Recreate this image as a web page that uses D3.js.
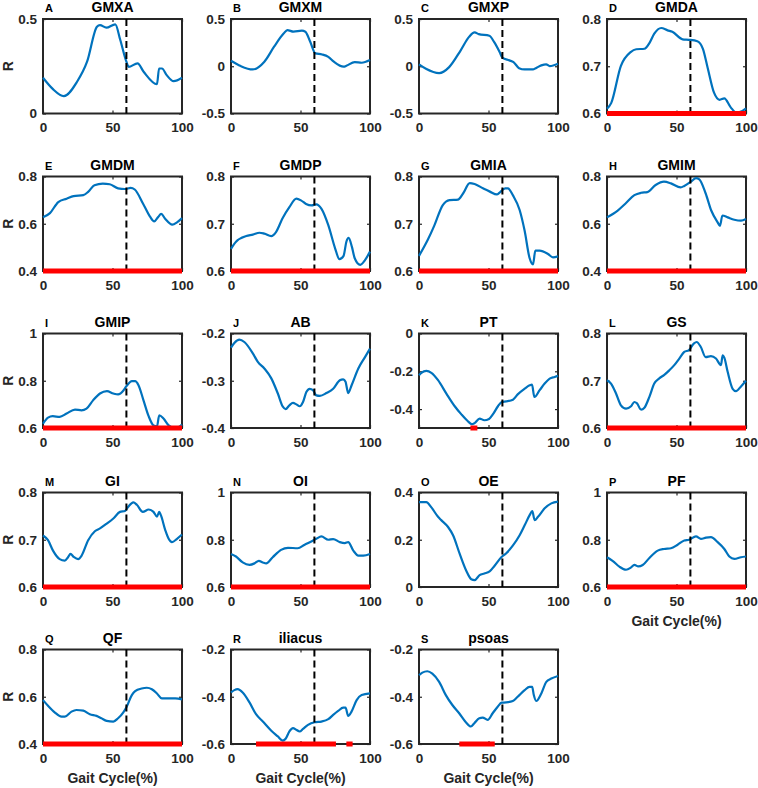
<!DOCTYPE html>
<html>
<head>
<meta charset="utf-8">
<script src="https://cdn.jsdelivr.net/npm/d3@7"></script>
<style>
  body { margin: 0; background: #fff; }
  svg text { font-family: "Liberation Sans", Arial, sans-serif; font-weight: bold; }
</style>
</head>
<body>
<svg id="chart" width="758" height="788"></svg>
<script>
// panel names, letters, axis limits, ticks
const muscles = ["GMXA","GMXM","GMXP","GMDA","GMDM","GMDP","GMIA","GMIM","GMIP","AB","PT","GS","GI","OI","OE","PF","QF","iliacus","psoas"];
const letters = ["A","B","C","D","E","F","G","H","I","J","K","L","M","N","O","P","Q","R","S"];
const yLimits = [[0,0.5],[-0.5,0.5],[-0.5,0.5],[0.6,0.8],[0.4,0.8],[0.6,0.8],[0.6,0.8],[0.4,0.8],[0.6,1],[-0.4,-0.2],[-0.5,0],[0.6,0.8],[0.6,0.8],[0.6,1],[0,0.4],[0.6,1],[0.4,0.8],[-0.6,-0.2],[-0.6,-0.2]];
const yTickVals = [[0,0.5],[-0.5,0,0.5],[-0.5,0,0.5],[0.6,0.7,0.8],[0.4,0.6,0.8],[0.6,0.7,0.8],[0.6,0.7,0.8],[0.4,0.6,0.8],[0.6,0.8,1],[-0.4,-0.3,-0.2],[-0.4,-0.2,0],[0.6,0.7,0.8],[0.6,0.7,0.8],[0.6,0.8,1],[0,0.2,0.4],[0.6,0.8,1],[0.4,0.6,0.8],[-0.6,-0.4,-0.2],[-0.6,-0.4,-0.2]];
const xTickVals = [0, 50, 100];
const toeOff = 60;
// significant stretches (% gait cycle), drawn in red on the bottom axis
const sigRanges = [[],[],[],[[0,100]],[[0,100]],[[0,100]],[[0,100]],[[0,100]],[[0,100]],[],[[37,42]],[[0,100]],[[0,100]],[[0,100]],[],[[0,100]],[[0,100]],[[18,75.5],[83,87.5]],[[29,54.5]]];

// correlation curves: [gait %, R]
const rGMXA = [[0,0.189],[7,0.13],[15,0.092],[24.5,0.168],[31.7,0.274],[38.8,0.459],[41,0.468],[45.6,0.454],[52,0.472],[55.6,0.389],[60,0.274],[61.6,0.247],[68,0.265],[72.4,0.221],[82,0.155],[83.5,0.238],[85.6,0.238],[89,0.203],[94,0.171],[100,0.189]];
const rGMXM = [[0,0.058],[7,0.002],[15.5,-0.034],[24,0.048],[31,0.207],[38,0.348],[40.5,0.383],[45,0.366],[51,0.376],[53.5,0.366],[57,0.26],[60.7,0.136],[65.5,0.125],[70,0.1],[74,0.048],[81,-0.005],[83,0.005],[89,0.044],[94,0.037],[100,0.065]];
const rGMXP = [[0,0.02],[5,-0.027],[14.5,-0.073],[21.7,-0.009],[30,0.169],[36,0.311],[40,0.358],[43,0.34],[50.6,0.322],[54,0.258],[58,0.151],[60,0.09],[65,0.062],[68,0.044],[72,-0.02],[76,-0.034],[82,-0.034],[84,-0.02],[88,0.009],[91.5,0.02],[94,0.002],[100,0.027]];
const rGMDA = [[0,0.61],[3,0.622],[10,0.701],[17,0.73],[21,0.736],[27,0.737],[30.5,0.749],[34,0.769],[39,0.781],[43.6,0.776],[47,0.773],[54.4,0.757],[59,0.756],[65,0.753],[69,0.737],[72.4,0.697],[77,0.644],[81,0.629],[84.4,0.632],[89,0.613],[93,0.602],[96.4,0.604],[100,0.611]];
const rGMDM = [[0,0.627],[5,0.645],[11,0.692],[17,0.706],[22,0.717],[29,0.721],[32.5,0.735],[37,0.763],[43,0.77],[48,0.767],[54,0.75],[59,0.747],[63,0.752],[66,0.745],[72,0.685],[77,0.63],[80,0.61],[83,0.63],[85,0.642],[88,0.62],[93,0.596],[96.4,0.606],[100,0.624]];
const rGMDP = [[0,0.647],[3.6,0.662],[11,0.674],[15.7,0.677],[20.5,0.681],[24,0.679],[29,0.674],[32.5,0.683],[37,0.711],[42,0.735],[47,0.753],[50.6,0.749],[54,0.742],[58,0.739],[61.4,0.741],[65,0.732],[70,0.697],[75,0.647],[78,0.625],[81,0.632],[83,0.662],[84.6,0.67],[87,0.651],[89,0.627],[93,0.613],[96.4,0.623],[100,0.641]];
const rGMIA = [[0,0.632],[6.5,0.667],[11,0.696],[17,0.739],[22,0.75],[28,0.751],[31.7,0.764],[36.5,0.786],[40,0.784],[46,0.775],[51,0.768],[56,0.762],[58,0.766],[62,0.775],[64,0.775],[67.6,0.76],[72.4,0.729],[76,0.685],[79.6,0.627],[82,0.614],[83.7,0.643],[86.8,0.643],[92.8,0.636],[96.4,0.629],[100,0.631]];
const rGMIM = [[0,0.627],[7.7,0.656],[13.7,0.688],[19.7,0.721],[24.5,0.731],[29,0.734],[35,0.764],[41,0.778],[46,0.771],[53,0.754],[55.6,0.76],[60.4,0.778],[64,0.793],[66.4,0.788],[71,0.728],[75,0.656],[79.6,0.606],[81.3,0.591],[83,0.635],[86.8,0.627],[91.6,0.617],[96.4,0.613],[100,0.62]];
const rGMIP = [[0,0.618],[3.6,0.644],[7,0.65],[12,0.647],[17,0.661],[23,0.678],[27.7,0.675],[31.3,0.682],[36,0.717],[41,0.746],[46,0.756],[50.6,0.746],[54,0.742],[58,0.76],[60,0.777],[64,0.798],[66.3,0.798],[68.7,0.781],[72.3,0.717],[76,0.65],[79.5,0.611],[82,0.607],[83.6,0.654],[86.7,0.64],[90.4,0.611],[94,0.601],[97.6,0.604],[100,0.615]];
const rAB = [[0,-0.23],[2.4,-0.22],[6,-0.213],[9.6,-0.218],[15.7,-0.242],[19.3,-0.26],[24,-0.274],[29,-0.295],[33.7,-0.327],[37.3,-0.355],[39.3,-0.36],[42,-0.352],[44.6,-0.347],[47,-0.35],[49.4,-0.354],[51.8,-0.345],[54.2,-0.324],[56.6,-0.317],[59,-0.32],[61.4,-0.331],[63.9,-0.332],[68.7,-0.326],[73.5,-0.317],[78.3,-0.299],[80.7,-0.297],[82.4,-0.302],[84.3,-0.326],[86.7,-0.31],[91.6,-0.274],[96.4,-0.25],[100,-0.232]];
const rPT = [[0,-0.221],[1.7,-0.208],[5.3,-0.198],[8.9,-0.208],[13.7,-0.247],[19.7,-0.318],[25.7,-0.385],[30.5,-0.428],[35,-0.463],[38,-0.48],[40,-0.474],[43.6,-0.45],[47,-0.459],[50.4,-0.452],[53.5,-0.424],[56.8,-0.385],[59.7,-0.362],[62.8,-0.359],[67.6,-0.35],[71,-0.322],[76,-0.292],[79.6,-0.274],[81.3,-0.27],[83,-0.336],[86.8,-0.3],[90.4,-0.265],[94,-0.239],[97.6,-0.23],[100,-0.224]];
const rGS = [[0,0.701],[2.9,0.694],[6.5,0.673],[10,0.648],[13.7,0.641],[17.3,0.646],[19.7,0.655],[21.6,0.652],[24.5,0.639],[26.9,0.643],[30.5,0.666],[34,0.694],[37.6,0.705],[41,0.712],[44.8,0.722],[48.4,0.733],[52,0.747],[55.6,0.761],[59,0.765],[62.6,0.779],[64.5,0.782],[67.4,0.772],[71,0.75],[74.8,0.752],[78.4,0.747],[82,0.733],[83.2,0.754],[84.4,0.749],[86.8,0.719],[90.4,0.683],[92.8,0.678],[96.4,0.688],[100,0.7]];
const rGI = [[0,0.709],[3.6,0.699],[7.2,0.677],[12,0.659],[15.7,0.656],[18,0.663],[19.8,0.67],[22,0.664],[25.3,0.659],[27.7,0.666],[32.5,0.699],[37.3,0.718],[41,0.724],[45.8,0.734],[50.6,0.745],[55.4,0.759],[59,0.761],[61.4,0.77],[65,0.779],[67.5,0.774],[71.8,0.759],[76,0.764],[79.5,0.759],[82,0.749],[83.6,0.759],[84.8,0.752],[88,0.72],[90.4,0.702],[92.8,0.695],[96.4,0.702],[100,0.711]];
const rOI = [[0,0.74],[3.6,0.729],[8.4,0.704],[13.3,0.694],[16.9,0.7],[20,0.711],[22.9,0.704],[25.3,0.7],[30,0.726],[36,0.757],[41,0.766],[48,0.764],[53,0.779],[57.8,0.793],[61.4,0.804],[65,0.814],[70,0.8],[73.5,0.803],[78.3,0.79],[81.9,0.786],[84.3,0.79],[88,0.754],[91.6,0.733],[95.2,0.733],[100,0.74]];
const rOE = [[0,0.359],[5.3,0.359],[8.9,0.337],[13.7,0.297],[16,0.283],[20.9,0.254],[24.5,0.219],[29.3,0.14],[34,0.069],[37.6,0.033],[40,0.029],[43.6,0.05],[47,0.057],[50.8,0.066],[54.4,0.09],[59.2,0.126],[62.8,0.143],[67.6,0.176],[72.4,0.219],[76,0.261],[79.6,0.304],[81.5,0.321],[83.2,0.283],[85.6,0.297],[90.4,0.333],[95.2,0.354],[100,0.361]];
const rPF = [[0,0.726],[4,0.711],[8.9,0.686],[13.7,0.673],[17.3,0.683],[19.7,0.694],[22.5,0.687],[25.7,0.693],[30.5,0.723],[36.5,0.754],[41,0.761],[46,0.764],[50.8,0.779],[55.6,0.797],[59,0.8],[64,0.814],[67.6,0.804],[71.2,0.809],[74.8,0.811],[79.6,0.79],[84.4,0.761],[88,0.729],[91.6,0.719],[96.4,0.726],[100,0.729]];
const rQF = [[0,0.586],[3.6,0.562],[8.4,0.534],[13.3,0.516],[15.7,0.516],[20.5,0.537],[24,0.544],[29,0.541],[33.7,0.526],[38.5,0.519],[42,0.509],[45.8,0.498],[50.6,0.495],[54,0.509],[57.8,0.534],[60.2,0.558],[63.9,0.607],[66.3,0.624],[71,0.635],[74.7,0.638],[78.3,0.632],[82,0.614],[85.5,0.593],[90.4,0.593],[95.2,0.593],[100,0.589]];
const rIliacus = [[0,-0.382],[2.4,-0.372],[4.8,-0.368],[8.4,-0.382],[13.3,-0.424],[18,-0.474],[22.9,-0.505],[29,-0.544],[33.7,-0.568],[37.3,-0.586],[39.3,-0.578],[42,-0.547],[44.6,-0.533],[47,-0.54],[49.4,-0.547],[51.8,-0.536],[55.4,-0.519],[60.2,-0.508],[65,-0.505],[70,-0.495],[73.5,-0.477],[77.1,-0.46],[80.7,-0.446],[82.4,-0.446],[84.3,-0.481],[86.7,-0.463],[90.4,-0.414],[94,-0.393],[100,-0.386]];
const rPsoas = [[0,-0.309],[2.4,-0.298],[6,-0.292],[9.6,-0.302],[14.5,-0.337],[19.3,-0.393],[24,-0.435],[28.9,-0.47],[33.7,-0.508],[37.3,-0.526],[39.8,-0.512],[43.4,-0.491],[45.8,-0.488],[49.4,-0.498],[53,-0.47],[56.6,-0.442],[59.5,-0.425],[62.7,-0.424],[67.5,-0.418],[71,-0.4],[76,-0.372],[79.5,-0.358],[81.4,-0.358],[82.6,-0.393],[84.3,-0.418],[88,-0.386],[91.6,-0.337],[95.2,-0.323],[100,-0.312]];
const curves = [rGMXA,rGMXM,rGMXP,rGMDA,rGMDM,rGMDP,rGMIA,rGMIM,rGMIP,rAB,rPT,rGS,rGI,rOI,rOE,rPF,rQF,rIliacus,rPsoas];

// layout
const colX = [43, 231, 419, 607];
const rowY = [19, 176.5, 333.5, 492.5, 649.5];
const W = 139, H = 94.5;
const axisColor = "#262626";
const xLabelPanels = [15, 16, 17, 18];

const svg = d3.select("#chart");

muscles.forEach((name, i) => {
  const row = Math.floor(i / 4), col = i % 4;
  const g = svg.append("g").attr("transform", `translate(${colX[col]},${rowY[row]})`);

  const xScale = d3.scaleLinear().domain([0, 100]).range([0, W]);
  const yScale = d3.scaleLinear().domain(yLimits[i]).range([H, 0]);
  const fmt = d => String(+d.toFixed(2));

  // axes, ticks pointing inward like matlab
  const xAx = g.append("g").attr("transform", `translate(0,${H})`)
    .call(d3.axisBottom(xScale).tickValues(xTickVals).tickSizeInner(-3).tickSizeOuter(0).tickPadding(9).tickFormat(fmt));
  const xTop = g.append("g")
    .call(d3.axisTop(xScale).tickValues(xTickVals).tickSizeInner(-3).tickSizeOuter(0).tickFormat(""));
  const yAx = g.append("g")
    .call(d3.axisLeft(yScale).tickValues(yTickVals[i]).tickSizeInner(-3).tickSizeOuter(0).tickPadding(6).tickFormat(fmt));
  const yRight = g.append("g").attr("transform", `translate(${W},0)`)
    .call(d3.axisRight(yScale).tickValues(yTickVals[i]).tickSizeInner(-3).tickSizeOuter(0).tickFormat(""));

  [xAx, xTop, yAx, yRight].forEach(a => {
    a.select(".domain").remove();
    a.selectAll(".tick line").attr("stroke", axisColor).attr("stroke-width", 1.2);
    a.selectAll(".tick text").attr("fill", axisColor).style("font-size", "13.5px")
      .style("font-family", "'Liberation Sans', Arial, sans-serif").style("font-weight", "bold");
  });

  g.append("rect")
    .attr("width", W).attr("height", H)
    .attr("fill", "none").attr("stroke", axisColor).attr("stroke-width", 2);

  const lineGen = d3.line()
    .x(d => xScale(d[0]))
    .y(d => yScale(d[1]))
    .curve(d3.curveMonotoneX);

  g.append("path")
    .datum(curves[i])
    .attr("d", lineGen)
    .attr("fill", "none")
    .attr("stroke", "#0072BD")
    .attr("stroke-width", 2.2)
    .attr("stroke-linejoin", "round");

  g.append("line")
    .attr("x1", xScale(toeOff)).attr("x2", xScale(toeOff))
    .attr("y1", 0).attr("y2", H)
    .attr("stroke", "#000").attr("stroke-width", 2)
    .attr("stroke-dasharray", "7,4");

  g.selectAll(".sig")
    .data(sigRanges[i])
    .join("line")
      .attr("class", "sig")
      .attr("x1", d => xScale(d[0])).attr("x2", d => xScale(d[1]))
      .attr("y1", yScale(yLimits[i][0])).attr("y2", yScale(yLimits[i][0]))
      .attr("stroke", "#ff0000").attr("stroke-width", 5);

  // title + panel letter
  g.append("text")
    .attr("x", W / 2).attr("y", -7)
    .attr("text-anchor", "middle")
    .style("font-size", "14px")
    .attr("fill", "#000")
    .text(name);
  g.append("text")
    .attr("x", 2).attr("y", -7)
    .style("font-size", "11px")
    .attr("fill", "#000")
    .text(letters[i]);

  if (col === 0) {
    g.append("text")
      .attr("transform", `translate(${-30},${H / 2}) rotate(-90)`)
      .attr("text-anchor", "middle")
      .style("font-size", "14px")
      .attr("fill", axisColor)
      .text("R");
  }
  if (xLabelPanels.includes(i)) {
    g.append("text")
      .attr("x", W / 2).attr("y", H + 39)
      .attr("text-anchor", "middle")
      .style("font-size", "14px")
      .attr("fill", axisColor)
      .text("Gait Cycle(%)");
  }
});
</script>
</body>
</html>
